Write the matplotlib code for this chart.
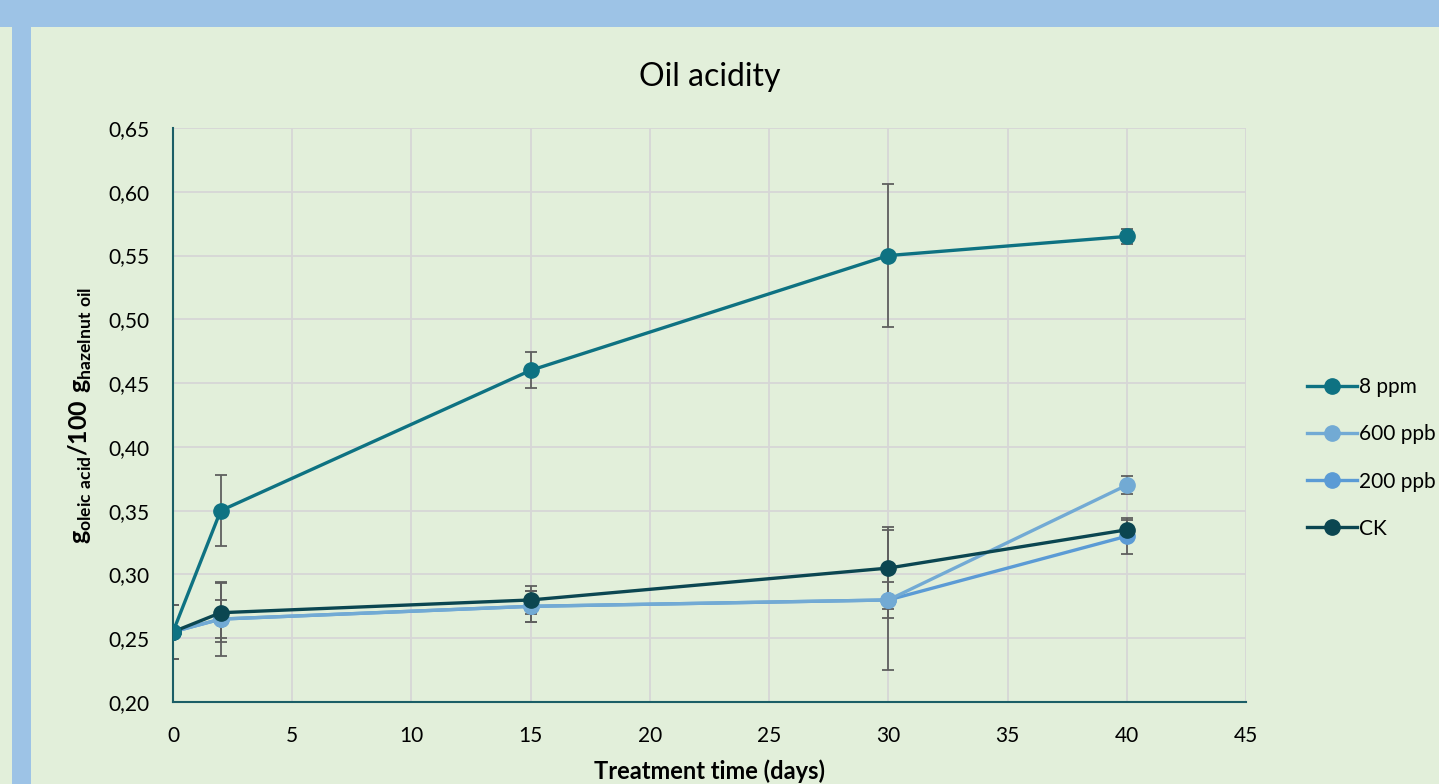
import matplotlib.pyplot as plt
from matplotlib.patches import Rectangle

days = [0, 2, 15, 30, 40]
series_names = ["8 ppm", "600 ppb", "200 ppb", "CK"]
acid_8ppm = [0.255, 0.35, 0.46, 0.55, 0.565]
acid_600ppb = [0.255, 0.265, 0.275, 0.28, 0.37]
acid_200ppb = [0.255, 0.265, 0.275, 0.28, 0.33]
acid_ck = [0.255, 0.27, 0.28, 0.305, 0.335]
err_8ppm = [0.021, 0.028, 0.014, 0.056, 0.006]
err_600ppb = [0.021, 0.015, 0.012, 0.014, 0.007]
err_200ppb = [0.021, 0.029, 0.012, 0.055, 0.014]
err_ck = [0.021, 0.023, 0.011, 0.032, 0.008]
colors = ["#0E7282", "#72AAD4", "#5B9BD5", "#0B4651"]

bg = "#E2EFDA"
band = "#9DC3E6"

plt.rcParams['font.family'] = ['Lato', 'DejaVu Sans']
plt.rcParams['mathtext.fontset'] = 'custom'
plt.rcParams['mathtext.bf'] = 'Lato:bold'
plt.rcParams['mathtext.rm'] = 'Lato'

fig = plt.figure(figsize=(14.39, 7.84), dpi=100, facecolor=bg)
# blue frame bands
fig.patches.append(Rectangle((0, 1 - 27 / 784), 1, 27 / 784, transform=fig.transFigure,
                             facecolor=band, edgecolor='none', zorder=0))
fig.patches.append(Rectangle((12 / 1439, 0), 19 / 1439, 1, transform=fig.transFigure,
                             facecolor=band, edgecolor='none', zorder=0))

ax = fig.add_axes([173 / 1439, 1 - 702 / 784, 1073 / 1439, 574 / 784])
ax.set_facecolor(bg)

all_vals = [acid_8ppm, acid_600ppb, acid_200ppb, acid_ck]
all_errs = [err_8ppm, err_600ppb, err_200ppb, err_ck]
# draw in reverse so 8 ppm line is on top like the original
order = [2, 1, 3, 0]
for i in order:
    ax.errorbar(days, all_vals[i], yerr=all_errs[i], fmt='none', ecolor='#5F5F5F',
                elinewidth=1.3, capsize=4.5, capthick=1.3, zorder=2)
for i in order:
    ax.plot(days, all_vals[i], '-o', color=colors[i], lw=2.4, markersize=11,
            label=series_names[i], zorder=3)

ax.set_xlim(0, 45)
ax.set_ylim(0.20, 0.65)
ax.set_xticks(range(0, 46, 5))
ax.set_yticks([0.20 + 0.05 * k for k in range(10)])
ax.set_yticklabels([f"{0.20 + 0.05 * k:.2f}".replace('.', ',') for k in range(10)])
ax.grid(True, color='#D6D6D6', lw=1.3)
ax.set_axisbelow(True)
for s in ['top', 'right']:
    ax.spines[s].set_visible(False)
for s in ['left', 'bottom']:
    ax.spines[s].set_color('#1B5E66')
    ax.spines[s].set_linewidth(1.5)
ax.tick_params(length=0, labelsize=15, pad=17)
ax.tick_params(axis='y', pad=17)

ax.set_title("Oil acidity", fontsize=23, pad=30)
ax.set_xlabel("Treatment time (days)", fontsize=17, fontweight='bold', labelpad=10)
ax.set_ylabel(r"$\mathbf{g}_{\mathbf{oleic\ acid}}\mathbf{/100\ g}_{\mathbf{hazelnut\ oil}}$",
              fontsize=18, labelpad=10)

handles, labels = ax.get_legend_handles_labels()
hmap = dict(zip(labels, handles))
leg = fig.legend([hmap[n] for n in series_names], series_names,
                 loc='center left', bbox_to_anchor=(1288 / 1439, 1 - 458 / 784),
                 frameon=False, fontsize=15, labelspacing=1.3,
                 handlelength=2.4, handletextpad=0.1)

fig.savefig("out.png", dpi=100, facecolor=bg)
